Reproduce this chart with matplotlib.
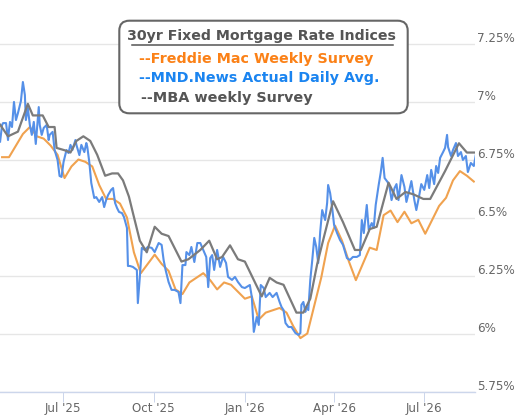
import matplotlib
matplotlib.use('Agg')
import matplotlib.pyplot as plt
import matplotlib.transforms as mtransforms
from matplotlib.patches import FancyBboxPatch
import pandas as pd

# ---------------- data ----------------
freddie_start = '2025-05-01'   # weekly (Thursday) survey
freddie_rates = [
    6.76, 6.76, 6.81, 6.86, 6.89, 6.85, 6.84, 6.81, 6.77, 6.67,
    6.72, 6.75, 6.74, 6.72, 6.64, 6.58, 6.58, 6.56, 6.50, 6.35,
    6.26, 6.30, 6.34, 6.30, 6.27, 6.19, 6.17, 6.22, 6.24, 6.26,
    6.23, 6.19, 6.22, 6.21, 6.18, 6.15, 6.16, 6.06, 6.09, 6.10,
    6.11, 6.09, 6.03, 5.98, 6.00, 6.12, 6.24, 6.39, 6.465, 6.40,
    6.31, 6.23, 6.30, 6.37, 6.36, 6.51, 6.53, 6.48, 6.525, 6.475,
    6.49, 6.43, 6.49, 6.55, 6.585, 6.66, 6.70, 6.68, 6.655,
]

mnd_dates = [
    '2025-04-29', '2025-05-01', '2025-05-02', '2025-05-05', '2025-05-07', '2025-05-08', '2025-05-09',
    '2025-05-11', '2025-05-13', '2025-05-15', '2025-05-17', '2025-05-20', '2025-05-22', '2025-05-24',
    '2025-05-25', '2025-05-27', '2025-05-29', '2025-05-31', '2025-06-02', '2025-06-04', '2025-06-07',
    '2025-06-08', '2025-06-10', '2025-06-12', '2025-06-15', '2025-06-17', '2025-06-18', '2025-06-21',
    '2025-06-23', '2025-06-26', '2025-06-28', '2025-06-30', '2025-07-02', '2025-07-05', '2025-07-07',
    '2025-07-09', '2025-07-11', '2025-07-14', '2025-07-15', '2025-07-18', '2025-07-20', '2025-07-23',
    '2025-07-25', '2025-07-26', '2025-07-28', '2025-07-30', '2025-08-02', '2025-08-04', '2025-08-07',
    '2025-08-10', '2025-08-12', '2025-08-14', '2025-08-16', '2025-08-19', '2025-08-21', '2025-08-23',
    '2025-08-25', '2025-08-27', '2025-08-30', '2025-09-01', '2025-09-04', '2025-09-05', '2025-09-07',
    '2025-09-10', '2025-09-14', '2025-09-15', '2025-09-17', '2025-09-19', '2025-09-22', '2025-09-25',
    '2025-09-29', '2025-10-02', '2025-10-06', '2025-10-09', '2025-10-11', '2025-10-13', '2025-10-16',
    '2025-10-19', '2025-10-22', '2025-10-26', '2025-10-28', '2025-10-30', '2025-11-02', '2025-11-03',
    '2025-11-06', '2025-11-08', '2025-11-11', '2025-11-14', '2025-11-17', '2025-11-20', '2025-11-23',
    '2025-11-25', '2025-11-27', '2025-11-29', '2025-12-01', '2025-12-04', '2025-12-07', '2025-12-10',
    '2025-12-13', '2025-12-15', '2025-12-19', '2025-12-22', '2025-12-25', '2025-12-29', '2026-01-01',
    '2026-01-06', '2026-01-08', '2026-01-10', '2026-01-13', '2026-01-15', '2026-01-17', '2026-01-20',
    '2026-01-22', '2026-01-26', '2026-01-29', '2026-02-02', '2026-02-05', '2026-02-07', '2026-02-09',
    '2026-02-11', '2026-02-14', '2026-02-17', '2026-02-21', '2026-02-24', '2026-02-26', '2026-02-27',
    '2026-03-01', '2026-03-03', '2026-03-04', '2026-03-06', '2026-03-08', '2026-03-10', '2026-03-12',
    '2026-03-14', '2026-03-16', '2026-03-18', '2026-03-20', '2026-03-23', '2026-03-25', '2026-03-26',
    '2026-03-28', '2026-03-30', '2026-04-01', '2026-04-04', '2026-04-07', '2026-04-10', '2026-04-14',
    '2026-04-17', '2026-04-20', '2026-04-24', '2026-04-27', '2026-04-29', '2026-05-01', '2026-05-04',
    '2026-05-06', '2026-05-09', '2026-05-11', '2026-05-13', '2026-05-16', '2026-05-18', '2026-05-20',
    '2026-05-22', '2026-05-25', '2026-05-27', '2026-05-29', '2026-06-01', '2026-06-03', '2026-06-05',
    '2026-06-08', '2026-06-11', '2026-06-13', '2026-06-16', '2026-06-18', '2026-06-21', '2026-06-23',
    '2026-06-26', '2026-06-28', '2026-07-01', '2026-07-04', '2026-07-06', '2026-07-08', '2026-07-11',
    '2026-07-13', '2026-07-15', '2026-07-17', '2026-07-20', '2026-07-22', '2026-07-24', '2026-07-25',
    '2026-07-28', '2026-07-30', '2026-08-02', '2026-08-04', '2026-08-07', '2026-08-09', '2026-08-12',
    '2026-08-14', '2026-08-17', '2026-08-20', '2026-08-22',
]
mnd_rates = [
    6.827, 6.899, 6.907, 6.907, 6.834, 6.877, 6.912,
    6.890, 6.998, 6.920, 6.950, 7.002, 7.084, 7.028,
    6.920, 6.972, 6.899, 6.856, 6.912, 6.817, 6.976,
    6.899, 6.856, 6.886, 6.899, 6.834, 6.856, 6.869,
    6.791, 6.748, 6.679, 6.675, 6.739, 6.791, 6.778,
    6.813, 6.791, 6.834, 6.813, 6.769, 6.813, 6.782,
    6.821, 6.804, 6.739, 6.649, 6.584, 6.588, 6.567,
    6.588, 6.545, 6.575, 6.597, 6.619, 6.627, 6.563,
    6.541, 6.524, 6.519, 6.502, 6.455, 6.291, 6.291,
    6.287, 6.274, 6.131, 6.244, 6.369, 6.360, 6.373,
    6.369, 6.351, 6.390, 6.382, 6.317, 6.274, 6.222,
    6.188, 6.188, 6.179, 6.131, 6.295, 6.295, 6.351,
    6.338, 6.373, 6.308, 6.390, 6.390, 6.360, 6.330,
    6.200, 6.325, 6.338, 6.274, 6.360, 6.287, 6.330,
    6.304, 6.244, 6.231, 6.244, 6.222, 6.200, 6.196,
    6.209, 6.157, 6.007, 6.071, 6.037, 6.209, 6.196,
    6.157, 6.175, 6.157, 6.175, 6.136, 6.114, 6.101,
    6.045, 6.028, 6.028, 6.002, 5.994, 6.002, 6.123,
    6.136, 6.093, 6.114, 6.101, 6.231, 6.317, 6.412,
    6.373, 6.304, 6.438, 6.532, 6.489, 6.563, 6.640,
    6.606, 6.545, 6.468, 6.433, 6.403, 6.382, 6.325,
    6.317, 6.330, 6.330, 6.338, 6.489, 6.433, 6.554,
    6.446, 6.476, 6.455, 6.554, 6.640, 6.692, 6.757,
    6.670, 6.653, 6.632, 6.575, 6.627, 6.644, 6.575,
    6.683, 6.632, 6.567, 6.619, 6.657, 6.575, 6.532,
    6.597, 6.644, 6.619, 6.683, 6.627, 6.705, 6.644,
    6.722, 6.692, 6.757, 6.782, 6.800, 6.856, 6.804,
    6.765, 6.791, 6.821, 6.765, 6.782, 6.748, 6.765,
    6.696, 6.735, 6.722, 6.769,
]

mba_dates = [
    '2025-04-29', '2025-05-07', '2025-05-17', '2025-05-27', '2025-06-01', '2025-06-11', '2025-06-17',
    '2025-06-23', '2025-06-25', '2025-07-03', '2025-07-09', '2025-07-15', '2025-07-22', '2025-07-29',
    '2025-08-05', '2025-08-13', '2025-08-20', '2025-08-26', '2025-08-31', '2025-09-06', '2025-09-10',
    '2025-09-17', '2025-09-24', '2025-10-02', '2025-10-09', '2025-10-16', '2025-10-29', '2025-11-05',
    '2025-11-17', '2025-11-26', '2025-12-04', '2025-12-09', '2025-12-17', '2025-12-25', '2026-01-01',
    '2026-01-18', '2026-01-26', '2026-02-02', '2026-02-09', '2026-02-22', '2026-03-01', '2026-03-08',
    '2026-03-15', '2026-03-22', '2026-03-31', '2026-04-10', '2026-04-22', '2026-04-28', '2026-05-07',
    '2026-05-14', '2026-05-26', '2026-06-03', '2026-06-12', '2026-06-20', '2026-06-30', '2026-07-07',
    '2026-07-22', '2026-08-05', '2026-08-13', '2026-08-21',
]
mba_rates = [
    6.90, 6.85, 6.87, 6.99, 6.94, 6.94, 6.89,
    6.89, 6.80, 6.79, 6.78, 6.83, 6.85, 6.83,
    6.77, 6.68, 6.69, 6.69, 6.66, 6.59, 6.52,
    6.40, 6.35, 6.46, 6.43, 6.42, 6.31, 6.32,
    6.36, 6.40, 6.32, 6.33, 6.38, 6.32, 6.31,
    6.16, 6.24, 6.22, 6.21, 6.09, 6.09, 6.15,
    6.30, 6.42, 6.57, 6.48, 6.36, 6.36, 6.45,
    6.46, 6.65, 6.58, 6.61, 6.60, 6.58, 6.58,
    6.70, 6.82, 6.78, 6.78,
]

y_ticks = [5.75, 6.0, 6.25, 6.5, 6.75, 7.0, 7.25]
y_tick_labels = ['5.75%', '6%', '6.25%', '6.5%', '6.75%', '7%', '7.25%']
x_ticks = ['2025-07-01', '2025-10-01', '2026-01-01', '2026-04-01', '2026-07-01']
x_tick_labels = ["Jul '25", "Oct '25", "Jan '26", "Apr '26", "Jul '26"]

legend_title = '30yr Fixed Mortgage Rate Indices'
legend_items = ['--Freddie Mac Weekly Survey', '--MND.News Actual Daily Avg.', '--MBA weekly Survey']

# ---------------- figure ----------------
W, H = 525, 416
fig = plt.figure(figsize=(W / 100, H / 100), dpi=100)
fig.patch.set_facecolor('white')

ax = fig.add_axes([0, 24.5 / H, 475 / W, 391.5 / H])
ax.set_facecolor('white')

freddie_dates = pd.date_range(freddie_start, periods=len(freddie_rates), freq='7D')
ax.plot(freddie_dates, freddie_rates, color='#f0a24f', lw=1.5, zorder=3,
        solid_joinstyle='round')
ax.plot(pd.to_datetime(mnd_dates), mnd_rates, color='#5590e8', lw=1.5, zorder=4,
        solid_joinstyle='round')
ax.plot(pd.to_datetime(mba_dates), mba_rates, color='#7b7b7b', lw=1.6, zorder=5,
        solid_joinstyle='round')

ref = pd.Timestamp('2025-07-01')
ax.set_xlim(ref - pd.Timedelta(days=63.1), ref + pd.Timedelta(days=416.2))
ax.set_ylim(5.75, 7.4375)

ax.set_yticks(y_ticks)
ax.yaxis.grid(True, color='#e6e6e6', lw=1)
ax.set_axisbelow(True)
ax.tick_params(axis='y', length=0, labelleft=False, labelright=False)

for s in ['top', 'left', 'right']:
    ax.spines[s].set_visible(False)
ax.spines['bottom'].set_color('#ccd6eb')
ax.spines['bottom'].set_linewidth(1)
ax.spines['bottom'].set_zorder(6)

ax.set_xticks(pd.to_datetime(x_ticks))
ax.set_xticklabels(x_tick_labels)
ax.tick_params(axis='x', direction='out', length=10 * 0.72, width=0.72,
               color='#ccd6eb', labelsize=8.6, labelcolor='#666666', pad=0.5)

ytr = mtransforms.offset_copy(ax.get_yaxis_transform(), fig=fig, x=2.5, y=1, units='dots')
for v, lab in zip(y_ticks, y_tick_labels):
    ax.text(1.0, v, lab, transform=ytr, ha='left', va='baseline',
            fontsize=8.6, color='#666666', clip_on=False)

# ---------------- legend box (pixel overlay) ----------------
ov = fig.add_axes([0, 0, 1, 1], facecolor='none', zorder=10)
ov.set_xlim(0, W)
ov.set_ylim(H, 0)
ov.axis('off')

box = FancyBboxPatch((119.3, 20.7), 288.4, 92.6,
                     boxstyle='round,pad=0,rounding_size=10',
                     fc='white', ec='#666666', lw=1.5)
ov.add_patch(box)

texts = []
t0 = ov.text(127.3, 40, legend_title, fontsize=10.5, weight='bold',
             color='#555555', ha='left', va='baseline')
texts.append((t0, 271))
ov.plot([131.7, 393.3], [45, 45], color='#555555', lw=1.1)

item_pos = [(139, 63.3), (139, 81.7), (141, 102.3)]
item_col = ['#fb8117', '#1a84f0', '#555555']
item_w = [233, 241, 171]
for (x, y), lab, c, w in zip(item_pos, legend_items, item_col, item_w):
    t = ov.text(x, y, lab, fontsize=10, weight='bold', color=c,
                ha='left', va='baseline')
    texts.append((t, w))

fig.canvas.draw()
r = fig.canvas.get_renderer()
for t, target in texts:
    w = t.get_window_extent(r).width
    t.set_fontsize(t.get_fontsize() * target / w)

fig.savefig('out.png', dpi=100, facecolor='white')
